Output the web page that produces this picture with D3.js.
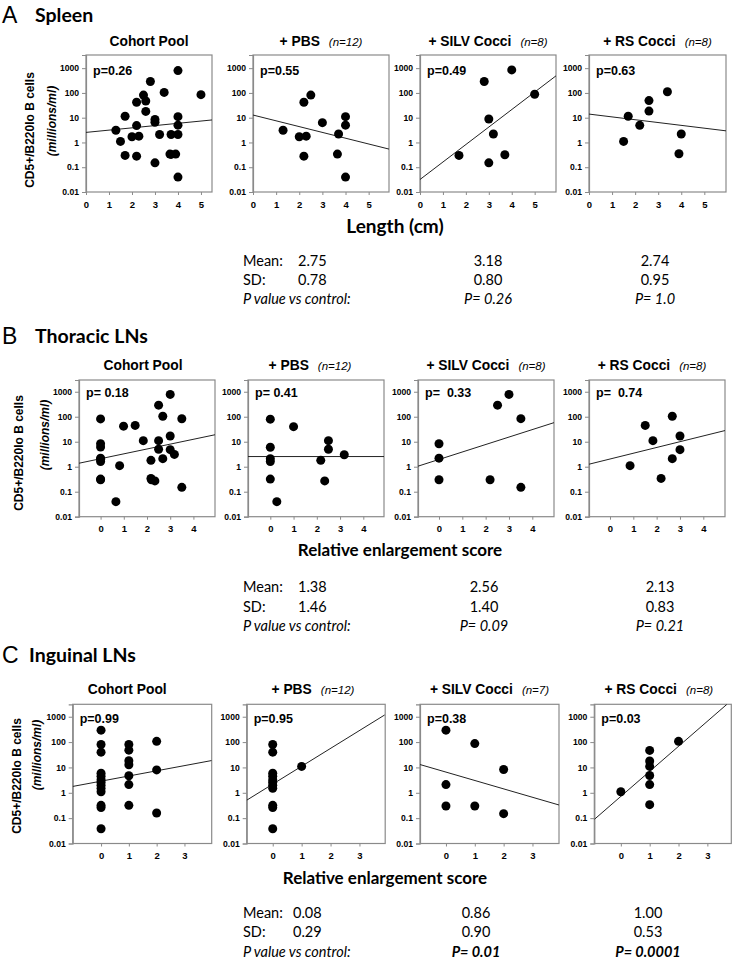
<!DOCTYPE html>
<html><head><meta charset="utf-8">
<script src="https://cdn.jsdelivr.net/npm/d3@7"></script>
<style>
body{margin:0;background:#fff;}
svg{display:block;}
text{white-space:pre;}
</style></head>
<body>
<svg id="chart" width="735" height="962"></svg>
<script>
// ---------- DATA ----------
const panelTitles = ["Cohort Pool", "+ PBS", "+ SILV Cocci", "+ RS Cocci"];
const nLabelsA = ["", "(n=12)", "(n=8)", "(n=8)"];
const nLabelsB = ["", "(n=12)", "(n=8)", "(n=8)"];
const nLabelsC = ["", "(n=12)", "(n=7)", "(n=8)"];
const yTicks = [0.01, 0.1, 1, 10, 100, 1000];
const yTickLabels = ["0.01", "0.1", "1", "10", "100", "1000"];
const xTicksA = [0, 1, 2, 3, 4, 5];
const xTicksB = [0, 1, 2, 3, 4];
const xTicksC = [0, 1, 2, 3];

const pLabelsA = ["p=0.26", "p=0.55", "p=0.49", "p=0.63"];
const pLabelsB = ["p= 0.18", "p= 0.41", "p=  0.33", "p=  0.74"];
const pLabelsC = ["p=0.99", "p=0.95", "p=0.38", "p=0.03"];

// Spleen (x = length cm, y = millions/ml)
const spleenPool = [[1.3,3.1],[1.5,1.1],[1.7,11.5],[1.7,0.3],[2.0,1.7],[2.2,42],[2.2,4.8],[2.2,0.28],[2.3,1.8],[2.5,82],[2.6,47],[2.6,18],[2.8,290],[3.0,8.5],[3.0,6.5],[3.0,0.15],[3.2,2.1],[3.4,105],[3.7,2.1],[3.7,0.33],[3.65,0.34],[3.9,0.34],[4.0,800],[4.0,11],[4.0,5],[4.0,2.1],[4.0,0.04],[5.0,85]];
const spleenPBS = [[1.3,3.1],[2.0,1.7],[2.2,42],[2.5,82],[2.3,1.8],[2.2,0.28],[3.0,6.3],[3.7,2.2],[3.65,0.34],[4.0,11],[4.0,5],[4.0,0.04]];
const spleenSILV = [[1.7,0.3],[2.8,290],[3.0,8.9],[3.0,0.15],[3.2,2.2],[3.7,0.32],[4.0,850],[5.0,88]];
const spleenRS = [[1.5,1.1],[1.7,11.5],[2.2,4.9],[2.6,49],[2.6,18.5],[3.4,112],[3.9,0.35],[4.0,2.2]];

// Thoracic LNs (x = relative enlargement score)
const thorPool = [[0,82],[0,8.3],[0,6.1],[0,2.2],[0,2.0],[0,1.6],[0,0.32],[0,0.3],[0.66,0.04],[0.82,1.1],[0.99,42],[1.49,45],[1.84,11],[2.17,1.8],[2.17,0.34],[2.19,0.3],[2.34,0.27],[2.5,290],[2.5,11],[2.5,5],[2.68,105],[2.68,2.1],[3.0,780],[3.0,17],[3.0,4.8],[3.18,3.1],[3.5,83],[3.5,0.15]];
const thorPBS = [[0,80],[0,6],[0,2.1],[0,1.6],[0,0.32],[0.28,0.04],[1.0,40],[2.17,1.8],[2.34,0.27],[2.5,11],[2.5,5],[3.18,3.0]];
const thorSILV = [[0,8.3],[0,2.2],[0,0.3],[2.19,0.3],[2.51,290],[3.0,780],[3.51,84],[3.51,0.15]];
const thorRS = [[0.86,1.1],[1.51,45],[1.84,11],[2.19,0.34],[2.67,105],[2.67,2.1],[3.0,17],[3.0,4.8]];

// Inguinal LNs
const ingPool = [[0,295],[0,80],[0,40],[0,5.9],[0,4.5],[0,3.3],[0,2.6],[0,2.0],[0,1.5],[0,1.1],[0,0.32],[0,0.26],[0,0.038],[1,80],[1,48],[1,18.5],[1,12.7],[1,4.7],[1,2.1],[1,0.32],[2,107],[2,8],[2,0.16]];
const ingPBS = [[0,80],[0,40],[0,5.9],[0,4.5],[0,3.3],[0,2.6],[0,2.0],[0,1.5],[0,0.32],[0,0.26],[0,0.038],[1,11]];
const ingSILV = [[0,295],[0,2.1],[0,0.3],[1,87],[1,0.3],[2,8.3],[2,0.15]];
const ingRS = [[0,1.1],[1,47],[1,18],[1,11],[1,4.8],[1,2.1],[1,0.34],[2,107]];

// Regression lines (two end points in data units)
const fitA = [[[0,2.55],[5.48,8.1]], [[0,12.8],[5.88,0.54]], [[0,0.032],[5.93,490]], [[0,14],[5.94,2.95]]];
const fitB = [[[-0.93,1.38],[4.93,19]], [[-0.96,2.55],[4.89,2.55]], [[-0.9,1.05],[4.93,58]], [[-0.9,1.26],[4.93,28]]];
const fitC = [[[-1.02,1.78],[3.98,18.7]], [[-0.9,0.51],[3.87,1170]], [[-0.9,13],[3.92,0.33]], [[-0.92,0.089],[3.68,3100]]];

// Summary statistics
const meanA = ["2.75", "3.18", "2.74"], sdA = ["0.78", "0.80", "0.95"], pvA = ["P= 0.26", "P= 1.0"];
const meanB = ["1.38", "2.56", "2.13"], sdB = ["1.46", "1.40", "0.83"], pvB = ["P= 0.09", "P= 0.21"];
const meanC = ["0.08", "0.86", "1.00"], sdC = ["0.29", "0.90", "0.53"], pvC = ["P= 0.01", "P= 0.0001"];

// ---------- LAYOUT ----------
const rows = [
  {letter:"A", title:"Spleen", titleY:23, ptitleY:46, top:55, bottom:192, yMax:3400,
   lefts:[86,253,420,589], widths:[126,136,136,137],
   xd:[[0,5.48],[0,5.88],[0,5.93],[0,5.94]], xTicks:xTicksA,
   sets:[spleenPool,spleenPBS,spleenSILV,spleenRS], fits:fitA, pl:pLabelsA, nl:nLabelsA, pdy:20, ptdx:[0,0,0,0],
   ylab:{x1:30,x2:52,y1:130,y2:121},
   xlabel:"Length (cm)", xlabelSize:19, xlabelX:395, xlabelY:233,
   stats:{mean:meanA, sd:sdA, pv:pvA, y:[265.5,284.5,304], c2:488, c3:655, bold:false}},
  {letter:"B", title:"Thoracic LNs", titleY:344, ptitleY:370, top:380, bottom:516.7, yMax:2950,
   lefts:[79,248,418,589], widths:[136,136,136,136],
   xd:[[-0.93,4.93],[-0.96,4.89],[-0.9,4.93],[-0.9,4.93]], xTicks:xTicksB,
   sets:[thorPool,thorPBS,thorSILV,thorRS], fits:fitB, pl:pLabelsB, nl:nLabelsB, pdy:17, ptdx:[-4,-6,0,-5],
   ylab:{x1:19,x2:45,y1:453,y2:435},
   xlabel:"Relative enlargement score", xlabelSize:17, xlabelX:400, xlabelY:556,
   stats:{mean:meanB, sd:sdB, pv:pvB, y:[592,611.5,631], c2:484, c3:660, bold:false}},
  {letter:"C", title:"Inguinal LNs", titleY:663, ptitleY:694, top:704.3, bottom:843.5, yMax:3090,
   lefts:[72.7,246.7,420,594.3], widths:[139,138.5,139,137],
   xd:[[-1.02,3.98],[-0.9,3.89],[-0.9,3.92],[-0.92,3.83]], xTicks:xTicksC,
   sets:[ingPool,ingPBS,ingSILV,ingRS], fits:fitC, pl:pLabelsC, nl:nLabelsC, pdy:19, ptdx:[-15,-3,0,-4],
   ylab:{x1:17,x2:37,y1:776,y2:755},
   xlabel:"Relative enlargement score", xlabelSize:17, xlabelX:385, xlabelY:884,
   stats:{mean:meanC, sd:sdC, pv:pvC, y:[918,937,956.5], c2:476, c3:648, bold:true}}
];

const svg = d3.select("#chart");
const ARIAL = "'Liberation Sans', Arial, sans-serif";
const CAL = "Lato, 'Open Sans', sans-serif";
const BOX = "#8a8a8a";

rows.forEach((r, ri) => {
  // Row heading
  svg.append("text").attr("x", 2).attr("y", r.titleY).attr("font-family", ARIAL)
    .attr("font-size", 23).attr("fill", "#000").text(r.letter);
  svg.append("text").attr("x", r.letter === "C" ? 29 : 35).attr("y", r.titleY - 1).attr("font-family", CAL)
    .attr("font-size", 19.5).attr("font-weight", 700).attr("fill", "#000").text(r.title);

  // Y axis label
  const yl = svg.append("g").attr("font-family", ARIAL).attr("font-size", 12).attr("font-weight", 700);
  yl.append("text").attr("transform", `translate(${r.ylab.x1 + 4},${r.ylab.y1}) rotate(-90)`)
    .attr("text-anchor", "middle").text("CD5+/B220lo B cells");
  yl.append("text").attr("transform", `translate(${r.ylab.x2 + 4},${r.ylab.y2}) rotate(-90)`)
    .attr("text-anchor", "middle").attr("font-style", "italic").text("(millions/ml)");

  for (let i = 0; i < 4; i++) {
    const L = r.lefts[i], Wd = r.widths[i];
    const x = d3.scaleLinear().domain(r.xd[i]).range([L, L + Wd]);
    const y = d3.scaleLog().domain([0.01, r.yMax]).range([r.bottom, r.top]);
    const g = svg.append("g");
    const cid = `clip${ri}_${i}`;
    svg.append("clipPath").attr("id", cid).append("rect")
      .attr("x", L).attr("y", r.top).attr("width", Wd).attr("height", r.bottom - r.top);

    // Box
    g.append("rect").attr("x", L).attr("y", r.top).attr("width", Wd).attr("height", r.bottom - r.top)
      .attr("fill", "none").attr("stroke", BOX).attr("stroke-width", 1.2);

    // Y axis
    const ya = g.append("g").attr("transform", `translate(${L},0)`)
      .call(d3.axisLeft(y).tickValues(yTicks).tickFormat((d, k) => yTickLabels[k]).tickSize(4).tickPadding(3));
    ya.select(".domain").attr("stroke", BOX).attr("stroke-width", 1.2);
    ya.selectAll(".tick line").attr("stroke", BOX);
    ya.selectAll(".tick text").attr("font-family", ARIAL).attr("font-size", 8.6).attr("font-weight", 700).attr("fill", "#000");

    // X axis
    const xa = g.append("g").attr("transform", `translate(0,${r.bottom})`)
      .call(d3.axisBottom(x).tickValues(r.xTicks).tickFormat(d3.format("d")).tickSize(3).tickPadding(6));
    xa.select(".domain").remove();
    xa.selectAll(".tick line").attr("stroke", BOX);
    xa.selectAll(".tick text").attr("font-family", ARIAL).attr("font-size", 9.5).attr("font-weight", 700).attr("fill", "#000");

    // Regression line
    g.append("line").attr("clip-path", `url(#${cid})`)
      .attr("x1", x(r.fits[i][0][0])).attr("y1", y(r.fits[i][0][1]))
      .attr("x2", x(r.fits[i][1][0])).attr("y2", y(r.fits[i][1][1]))
      .attr("stroke", "#222").attr("stroke-width", 1);

    // Points
    g.selectAll("circle.pt").data(r.sets[i]).join("circle").attr("class", "pt")
      .attr("cx", d => x(d[0])).attr("cy", d => y(d[1])).attr("r", 4.5).attr("fill", "#000");

    // p label
    g.append("text").attr("x", L + 7).attr("y", r.top + r.pdy).attr("font-family", ARIAL)
      .attr("font-size", 12.5).attr("font-weight", 700).text(r.pl[i]);

    // Panel title
    const t = g.append("text").attr("x", L + Wd / 2 + r.ptdx[i]).attr("y", r.ptitleY)
      .attr("text-anchor", "middle").attr("font-family", ARIAL);
    t.append("tspan").attr("font-size", 13.8).attr("font-weight", 700).text(panelTitles[i]);
    if (r.nl[i]) t.append("tspan").attr("dx", 9).attr("font-size", 11.5).attr("font-style", "italic").text(r.nl[i]);
  }

  // X axis label
  svg.append("text").attr("x", r.xlabelX).attr("y", r.xlabelY).attr("text-anchor", "middle")
    .attr("font-family", CAL).attr("font-size", r.xlabelSize).attr("font-weight", 700).text(r.xlabel);

  // Stats
  const s = r.stats;
  const st = svg.append("g").attr("font-family", CAL).attr("font-size", 14.5).attr("fill", "#000");
  st.append("text").attr("x", 243).attr("y", s.y[0]).text("Mean:");
  st.append("text").attr("x", 243).attr("y", s.y[1]).text("SD:");
  st.append("text").attr("x", 243).attr("y", s.y[2]).attr("font-style", "italic").text("P value vs control:");
  st.append("text").attr("x", r.letter === "C" ? 293 : 298).attr("y", s.y[0]).text(s.mean[0]);
  st.append("text").attr("x", r.letter === "C" ? 293 : 298).attr("y", s.y[1]).text(s.sd[0]);
  [s.c2, s.c3].forEach((cx, k) => {
    st.append("text").attr("x", cx).attr("y", s.y[0]).attr("text-anchor", "middle").text(s.mean[k + 1]);
    st.append("text").attr("x", cx).attr("y", s.y[1]).attr("text-anchor", "middle").text(s.sd[k + 1]);
    st.append("text").attr("x", cx).attr("y", s.y[2]).attr("text-anchor", "middle")
      .attr("font-style", "italic").attr("font-weight", s.bold ? 700 : 400).text(s.pv[k]);
  });
});
</script>
</body></html>
